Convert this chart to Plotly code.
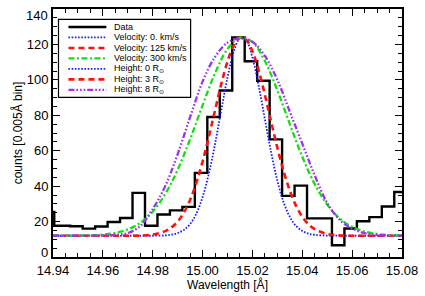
import plotly.graph_objects as go

# ---------------- data ----------------
# observed histogram (bin centres, counts)
hist_wl = [14.9366, 14.9444, 14.9494, 14.9544, 14.9594, 14.9644, 14.9694, 14.9744,
           14.9794, 14.9844, 14.9894, 14.9944, 14.9994, 15.0044, 15.0094, 15.0144,
           15.0194, 15.0244, 15.0294, 15.0344, 15.0394, 15.0444, 15.0494, 15.0544,
           15.0594, 15.0644, 15.0694, 15.0744, 15.0794, 15.0844]
hist_counts = [25.5, 17.6, 17.4, 16.0, 17.2, 19.8, 22.0, 36.2,
               17.6, 24.0, 26.3, 28.3, 47.5, 79.0, 94.0, 124.0,
               110.5, 99.5, 66.4, 34.5, 40.3, 21.8, 21.8, 6.6,
               16.1, 20.2, 22.5, 28.5, 36.7, 36.7]

# fine wavelength grid for the narrow models
wl_fine = [14.940, 14.945, 14.950, 14.955, 14.960, 14.965, 14.970, 14.975, 14.980,
           14.985, 14.9875, 14.990, 14.9925, 14.995, 14.9975, 15.000, 15.0025,
           15.005, 15.0075, 15.010, 15.0125, 15.015, 15.0175, 15.020, 15.0225,
           15.025, 15.0275, 15.030, 15.0325, 15.035, 15.0375, 15.040, 15.0425,
           15.045, 15.050, 15.055, 15.060, 15.065, 15.070, 15.075, 15.080]
vel0 = [12.0, 12.0, 12.0, 12.0, 12.0, 12.0, 12.0, 12.0, 12.0,
        12.2, 12.6, 13.5, 15.3, 18.6, 24.5, 33.8, 47.0,
        63.9, 82.9, 101.3, 115.8, 123.4, 122.2, 112.6, 96.7,
        77.8, 59.1, 43.1, 30.9, 22.7, 17.5, 14.7, 13.2,
        12.5, 12.1, 12.0, 12.0, 12.0, 12.0, 12.0, 12.0]
vel125 = [12.0, 12.0, 12.0, 12.0, 12.0, 12.0, 12.0, 12.1, 12.7,
          14.6, 16.7, 20.0, 25.1, 32.2, 41.8, 53.8, 67.8,
          82.8, 97.6, 110.3, 119.5, 123.8, 122.6, 116.1, 105.3,
          91.5, 76.4, 61.7, 48.5, 37.5, 28.9, 22.7, 18.4,
          15.7, 13.0, 12.2, 12.0, 12.0, 12.0, 12.0, 12.0]

# coarse grid for the broad models
wl_coarse = [14.940, 14.945, 14.950, 14.955, 14.960, 14.965, 14.970, 14.975, 14.980,
             14.985, 14.990, 14.995, 15.000, 15.005, 15.010, 15.015, 15.020, 15.025,
             15.030, 15.035, 15.040, 15.045, 15.050, 15.055, 15.060, 15.065, 15.070,
             15.075, 15.080]
vel300 = [12.0, 12.0, 12.1, 12.3, 12.7, 13.6, 15.6, 19.3, 25.6,
          35.5, 49.2, 66.5, 85.6, 103.7, 117.4, 123.8, 121.3, 110.6,
          94.1, 75.0, 56.6, 41.1, 29.6, 21.8, 17.0, 14.4, 13.0,
          12.4, 12.2]
height8 = [12.0, 12.0, 12.0, 12.1, 12.2, 12.5, 13.5, 17.5, 27.0,
           40.0, 58.0, 79.0, 99.0, 113.0, 121.0, 123.5, 121.5, 113.5,
           100.0, 82.0, 64.0, 46.0, 30.5, 21.0, 16.0, 13.5, 12.5,
           12.2, 12.0]

legend_labels = ["Data", "Velocity: 0. km/s", "Velocity: 125 km/s", "Velocity: 300 km/s",
                 "Height: 0 R<sub>⊙</sub>", "Height: 3 R<sub>⊙</sub>", "Height: 8 R<sub>⊙</sub>"]

x_ticks = [14.94, 14.96, 14.98, 15.00, 15.02, 15.04, 15.06, 15.08]
y_ticks = [0, 20, 40, 60, 80, 100, 120, 140]
# the end labels (0 and 140) are placed as annotations, nudged inwards as in the original
y_ticktext = ["", "20", "40", "60", "80", "100", "120", ""]

# ---------------- styles ----------------
S_DATA = dict(color="black", width=2.4)
S_BLUE = dict(color="#1a1aff", width=1.8, dash="1.6px,1.6px")
S_RED = dict(color="#ff1010", width=2.6, dash="6px,4px")
S_GREEN = dict(color="#10e010", width=2.3, dash="6px,2.5px,2px,2.5px")
S_PURPLE = dict(color="#9933ee", width=2.3, dash="6px,2px,1.6px,2px,1.6px,2px,1.6px,2px")

fig = go.Figure()
fig.add_trace(go.Scatter(x=hist_wl, y=hist_counts, mode="lines",
                         line=dict(shape="hvh", **S_DATA), name="Data"))
fig.add_trace(go.Scatter(x=wl_fine, y=vel0, mode="lines",
                         line=dict(shape="spline", **S_BLUE), name="Velocity 0"))
fig.add_trace(go.Scatter(x=wl_fine, y=vel125, mode="lines",
                         line=dict(shape="spline", **S_RED), name="Velocity 125"))
fig.add_trace(go.Scatter(x=wl_coarse, y=vel300, mode="lines",
                         line=dict(shape="spline", **S_GREEN), name="Velocity 300"))
fig.add_trace(go.Scatter(x=wl_coarse, y=height8, mode="lines",
                         line=dict(shape="spline", **S_PURPLE), name="Height 8"))

# ---------------- manual legend ----------------
L, R, T, B = 53, 22, 7, 39
W, H = 425, 296
pw, ph = W - L - R, H - T - B


def px(x):
    return (x - L) / pw


def py(y):
    return (H - B - y) / ph


shapes = [dict(type="rect", xref="paper", yref="paper",
               x0=px(58.5), x1=px(191), y0=py(96), y1=py(17.5),
               line=dict(color="black", width=1.2), fillcolor="white", layer="above")]
annotations = []
row_styles = [S_DATA, S_BLUE, S_RED, S_GREEN, S_BLUE, S_RED, S_PURPLE]
row_y = [25.2, 35.7, 46.3, 56.8, 67.4, 77.9, 88.5]
for lab, st, ry in zip(legend_labels, row_styles, row_y):
    shapes.append(dict(type="line", xref="paper", yref="paper",
                       x0=px(68.5), x1=px(106.5), y0=py(ry), y1=py(ry),
                       line=dict(**st), layer="above"))
    annotations.append(dict(xref="paper", yref="paper", x=px(112.5), y=py(ry),
                            text=lab, showarrow=False, xanchor="left", yanchor="middle",
                            font=dict(size=9, color="black")))

# end tick labels of the y axis
for val, ypix in ((y_ticks[0], 252.5), (y_ticks[-1], 13.5)):
    annotations.append(dict(xref="paper", yref="paper", x=px(49.5), y=py(ypix),
                            text=str(val), showarrow=False, xanchor="right",
                            yanchor="middle", font=dict(size=13, color="black")))

axis_common = dict(showline=True, linewidth=1.8, linecolor="black", mirror="ticks",
                   ticks="inside", ticklen=7, tickwidth=1.2, tickcolor="black",
                   showgrid=False, zeroline=False, tickfont=dict(size=13),
                   ticklabeloverflow="allow", automargin=True)

fig.update_layout(
    width=W, height=H,
    margin=dict(l=L, r=R, t=T, b=B),
    plot_bgcolor="white", paper_bgcolor="white",
    showlegend=False,
    font=dict(family="Liberation Sans, Arial, sans-serif", color="black"),
    shapes=shapes, annotations=annotations,
    xaxis=dict(range=[14.94, 15.08], tickvals=x_ticks,
               ticktext=[f"{v:.2f}" for v in x_ticks],
               minor=dict(ticks="inside", ticklen=4, dtick=0.005, tick0=14.94,
                          tickcolor="black", tickwidth=1),
               title=dict(text="Wavelength [Å]", font=dict(size=12), standoff=1),
               **axis_common),
    yaxis=dict(range=[0, 140], tickvals=y_ticks, ticktext=y_ticktext,
               minor=dict(ticks="inside", ticklen=4, dtick=5, tick0=0,
                          tickcolor="black", tickwidth=1),
               title=dict(text="counts [0.005Å bin]", font=dict(size=12), standoff=2),
               **axis_common),
)

fig.write_html("out.html", config={"displayModeBar": False},
               post_script="document.body.style.margin='0';document.body.style.padding='0';")
